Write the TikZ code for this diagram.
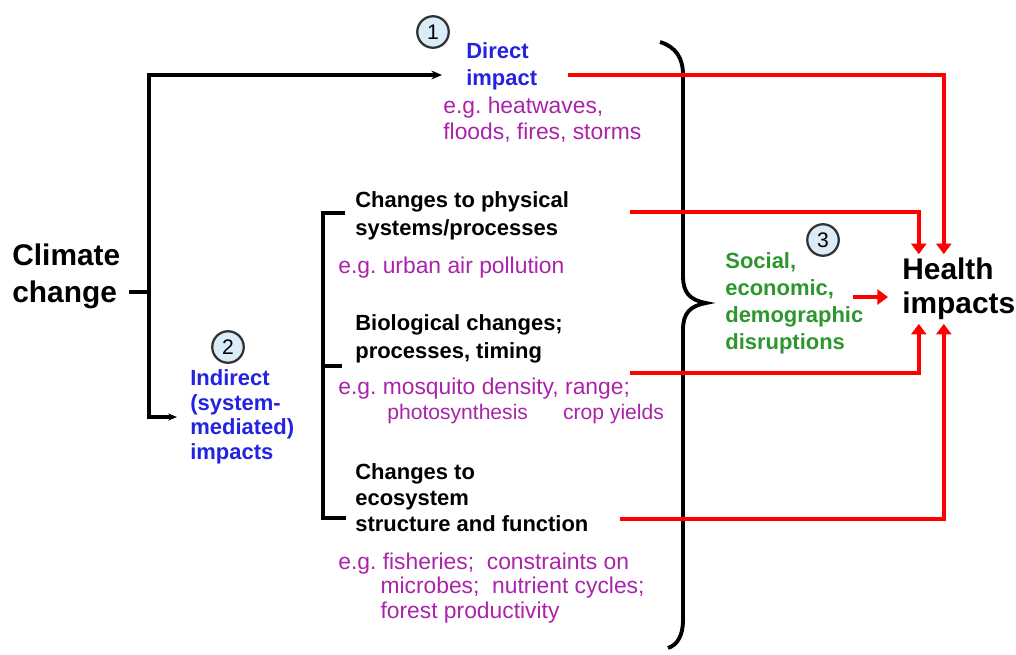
\documentclass[tikz,border=0pt]{standalone}
\usepackage{fontspec}
\setmainfont{Liberation Sans}
\usetikzlibrary{arrows.meta}
\definecolor{impblue}{RGB}{35,35,225}
\definecolor{egmag}{RGB}{170,35,170}
\definecolor{socgreen}{RGB}{45,150,45}
\definecolor{numfill}{RGB}{218,236,248}
\frenchspacing

\begin{document}
\begin{tikzpicture}[x=0.02cm,y=-0.02cm,
  txt/.style={anchor=west,inner sep=0pt,align=left},
  bigtxt/.style={txt,font=\bfseries\fontsize{17}{21}\selectfont},
  imptxt/.style={txt,text=impblue,font=\bfseries\fontsize{12.5}{15.4}\selectfont},
  egtxt/.style={txt,text=egmag,font=\fontsize{13}{14.8}\selectfont},
  chgtxt/.style={txt,font=\bfseries\fontsize{12.5}{16}\selectfont},
  soctxt/.style={txt,text=socgreen,font=\bfseries\fontsize{12.5}{15.4}\selectfont},
  numcirc/.style={circle,draw=black!80,line width=1.3pt,fill=numfill,inner sep=0pt,
    minimum size=0.63cm,font=\fontsize{12}{14}\selectfont},
  tree/.style={line width=2.2pt},
  feed/.style={red,line width=2.4pt,-{Triangle[length=6pt,width=8.5pt]}}]
\useasboundingbox (0,0) rectangle (1016,654);

\node[bigtxt] (climate) at (12,276) {Climate\\change};
\node[txt,font=\bfseries\fontsize{17}{19.4}\selectfont] (health) at (902,289) {Health\\impacts};

\node[imptxt] (direct) at (466,66) {Direct\\impact};
\node[egtxt] (egdirect) at (443,120) {e.g. heatwaves,\\floods, fires, storms};
\node[imptxt,font=\bfseries\fontsize{12.5}{14}\selectfont] (indirect) at (190,417) {Indirect\\(system-\\mediated)\\impacts};

\node[chgtxt] (phys) at (355,216) {Changes to physical\\systems/processes};
\node[egtxt] (egphys) at (338,268) {e.g. urban air pollution};
\node[chgtxt] (bio) at (355,339) {Biological changes;\\processes, timing};
\node[egtxt] (egbio) at (338,389) {e.g. mosquito density, range;};
\node[egtxt,font=\fontsize{12}{14}\selectfont] (egbio2) at (387,414) {photosynthesis\hspace{20pt}crop yields};
\node[chgtxt,font=\bfseries\fontsize{12.5}{14.8}\selectfont] (eco) at (355,498) {Changes to\\ecosystem\\structure and function};
\node[egtxt,font=\fontsize{13}{14}\selectfont] (egeco) at (338,588) {e.g. fisheries;\ \ constraints on\\\hspace*{24pt}microbes;\ \ nutrient cycles;\\\hspace*{24pt}forest productivity};

\node[soctxt] (social) at (725,303) {Social,\\economic,\\demographic\\disruptions};

\node[numcirc] (n1) at (433,32) {1};
\node[numcirc] (n2) at (228,347) {2};
\node[numcirc] (n3) at (823,240) {3};

% climate change forks into the direct and the system-mediated path
\coordinate (fork) at (149,292);
\draw[tree,shorten <=5pt] (climate.east |- fork) -- (fork);
\draw[tree,-{Stealth[length=6pt,width=5pt]}] (fork) |- ([shift={(-24,9)}]direct.west);
\draw[tree,-{Stealth[length=5pt,width=4pt]}] (fork) |- ([shift={(-13,0)}]indirect.west);

% bracket round the three kinds of change
\draw[line width=2pt] (345,213) -- (323,213) -- (323,518) -- (346,518) (323,366) -- (342,366);

% big brace
\draw[line width=2.2pt] (660,42) .. controls (676,47) and (683,58) .. (683,75) -- (683,276)
  .. controls (683,293) and (690,300) .. (706,303) .. controls (690,306) and (683,313) .. (683,330)
  -- (683,620) .. controls (683,636) and (677,645) .. (668,648);

% red routes to health impacts
\coordinate (dout) at (568,75);
\coordinate (pout) at (630,212);
\coordinate (bout) at (630,373);
\coordinate (eout) at (620,519);
\draw[feed,shorten >=2pt] (dout) -| ([shift={(-15,0)}]health.north);
\draw[feed,shorten >=2pt] (pout) -| ([shift={(-40,0)}]health.north);
\draw[feed,shorten >=2pt] (bout) -| ([shift={(-40,0)}]health.south);
\draw[feed,shorten >=2pt] (eout) -| ([shift={(-15,0)}]health.south);
\draw[feed] (853,297) -- ([shift={(-14,8)}]health.west);
\end{tikzpicture}
\end{document}
